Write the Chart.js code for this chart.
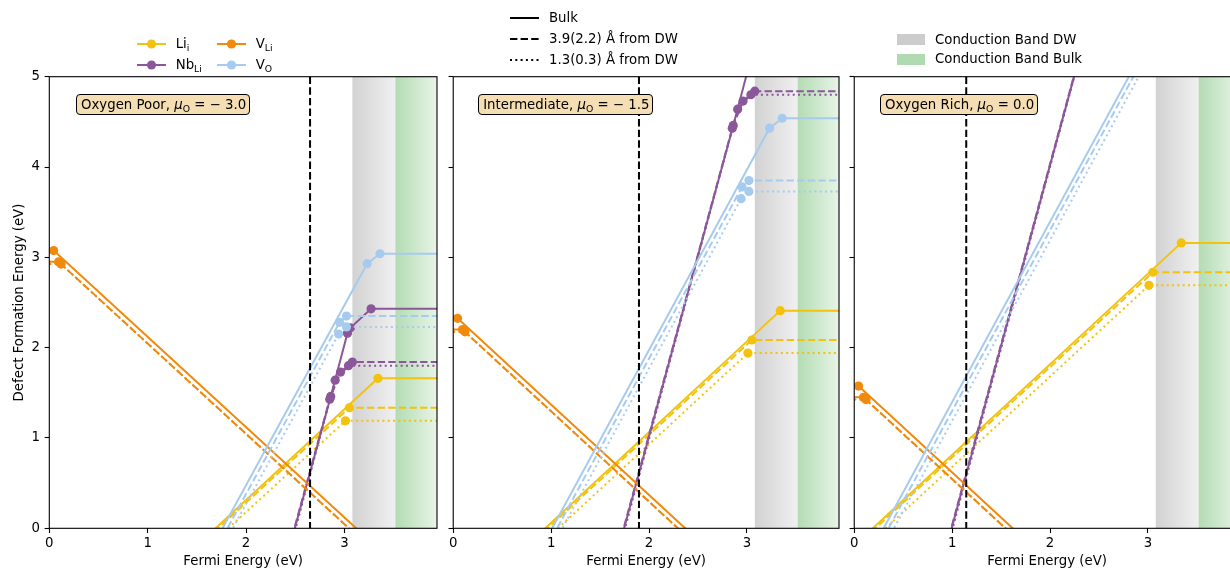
<!DOCTYPE html>
<html>
<head>
<meta charset="utf-8">
<script src="https://cdn.jsdelivr.net/npm/chart.js@4.4.1/dist/chart.umd.min.js"></script>
<style>
  html, body { margin: 0; padding: 0; background: #fff; overflow: hidden; width: 1230px; height: 569px; }
  body { position: relative; font-family: "DejaVu Sans", sans-serif; font-size: 13.3px; color: #000; }
  canvas { position: absolute; top: 0; }
  .leg { position: absolute; white-space: nowrap; line-height: 16px; height: 16px; }
  .handle { position: absolute; }
  sub { font-size: 70%; vertical-align: -0.3em; line-height: 0; }
  .tag { position: absolute; top: 94px; height: 21px; box-sizing: border-box; border: 1px solid #000;
         border-radius: 4px; background: #f5deb3; padding: 0 3px 0 4px; line-height: 19px; white-space: nowrap; }
</style>
</head>
<body>
<script>
// Fermi energy axis and formation energy axis
const xTicks = [0, 1, 2, 3];
const yTicks = [0, 1, 2, 3, 4, 5];
const xMax = 3.94;
const yMax = 5;

// conduction band regions (eV)
const bandDW = [3.08, 3.517];
const bandBulk = [3.517, 3.94];

// one entry per panel
const panelNames = ['Oxygen Poor', 'Intermediate', 'Oxygen Rich'];
const muO = [-3.0, -1.5, 0.0];
const fermiLevels = [2.65, 1.897, 1.144];

// each defect: [bulk, 3.9 A from DW, 1.3 A from DW], vertices as [E_F, E_form]
const liPoor = [
  [[1.49, -0.2], [3.34, 1.66], [3.94, 1.66]],
  [[1.515, -0.2], [3.05, 1.335], [3.94, 1.335]],
  [[1.62, -0.2], [3.01, 1.19], [3.94, 1.19]]
];
const vliPoor = [
  [[0, 3.075], [0.044, 3.075], [3.319, -0.2]],
  [[0, 2.95], [0.095, 2.95], [3.245, -0.2]],
  [[0, 2.925], [0.12, 2.925], [3.245, -0.2]]
];
const nbPoor = [
  [[2.445, -0.2], [2.86, 1.46], [3.03, 2.16], [3.06, 2.22], [3.27, 2.43], [3.94, 2.43]],
  [[2.44, -0.2], [2.85, 1.43], [2.96, 1.73], [3.08, 1.84], [3.94, 1.84]],
  [[2.455, -0.2], [2.905, 1.64], [3.04, 1.80], [3.94, 1.80]]
];
const voPoor = [
  [[1.66, -0.2], [3.23, 2.93], [3.36, 3.04], [3.94, 3.04]],
  [[1.71, -0.2], [2.95, 2.28], [3.02, 2.35], [3.94, 2.35]],
  [[1.765, -0.2], [2.94, 2.15], [3.02, 2.23], [3.94, 2.23]]
];

const liMid = [
  [[0.74, -0.2], [3.34, 2.41], [3.94, 2.41]],
  [[0.765, -0.2], [3.05, 2.085], [3.94, 2.085]],
  [[0.87, -0.2], [3.01, 1.94], [3.94, 1.94]]
];
const vliMid = [
  [[0, 2.325], [0.044, 2.325], [2.569, -0.2]],
  [[0, 2.2], [0.095, 2.2], [2.495, -0.2]],
  [[0, 2.175], [0.12, 2.175], [2.495, -0.2]]
];
const nbMid = [
  [[1.695, -0.2], [2.86, 4.46], [3.03, 5.16], [3.06, 5.22], [3.27, 5.43], [3.94, 5.43]],
  [[1.69, -0.2], [2.85, 4.43], [2.96, 4.73], [3.08, 4.84], [3.94, 4.84]],
  [[1.705, -0.2], [2.905, 4.64], [3.04, 4.80], [3.94, 4.80]]
];
const voMid = [
  [[0.91, -0.2], [3.23, 4.43], [3.36, 4.54], [3.94, 4.54]],
  [[0.96, -0.2], [2.95, 3.78], [3.02, 3.85], [3.94, 3.85]],
  [[1.015, -0.2], [2.94, 3.65], [3.02, 3.73], [3.94, 3.73]]
];

const liRich = [
  [[-0.01, -0.2], [3.34, 3.16], [3.94, 3.16]],
  [[0.015, -0.2], [3.05, 2.835], [3.94, 2.835]],
  [[0.12, -0.2], [3.01, 2.69], [3.94, 2.69]]
];
const vliRich = [
  [[0, 1.575], [0.044, 1.575], [1.819, -0.2]],
  [[0, 1.45], [0.095, 1.45], [1.745, -0.2]],
  [[0, 1.425], [0.12, 1.425], [1.745, -0.2]]
];
const nbRich = [
  [[0.945, -0.2], [2.86, 7.46], [3.03, 8.16], [3.06, 8.22], [3.27, 8.43], [3.94, 8.43]],
  [[0.94, -0.2], [2.85, 7.43], [2.96, 7.73], [3.08, 7.84], [3.94, 7.84]],
  [[0.955, -0.2], [2.905, 7.64], [3.04, 7.80], [3.94, 7.80]]
];
const voRich = [
  [[0.2, -0.2], [3.23, 5.85], [3.36, 5.96], [3.94, 5.96]],
  [[0.25, -0.2], [2.95, 5.2], [3.02, 5.27], [3.94, 5.27]],
  [[0.305, -0.2], [2.94, 5.07], [3.02, 5.15], [3.94, 5.15]]
];

const panelData = [
  [liPoor, nbPoor, vliPoor, voPoor],
  [liMid, nbMid, vliMid, voMid],
  [liRich, nbRich, vliRich, voRich]
];

// defects in plotting order: Li_i, Nb_Li, V_Li, V_O
const defectColors = ['#f2c20f', '#8b5799', '#f0890c', '#a7cbee'];
const dashes = [[], [7.4, 3.2], [2, 3.3]];
const styleLabels = ['Bulk', '3.9(2.2) Å from DW', '1.3(0.3) Å from DW'];

// geometry
const plotTop = 76.7, plotBottom = 528.3, plotW = 387.4, canvasH = 570;
const panelLefts = [49.3, 451.5, 853.3];
const FONT = { family: 'DejaVu Sans', size: 13.3 };
const MARK_R = 4.6;

function bandGradient(ctx, x0, x1, c0, c1) {
  const g = ctx.createLinearGradient(x0, 0, x1, 0);
  g.addColorStop(0, c0);
  g.addColorStop(1, c1);
  return g;
}

function makePanel(idx) {
  const yAxisW = idx === 0 ? panelLefts[0] : 6;
  const canvas = document.createElement('canvas');
  const w = Math.round(yAxisW + plotW + 8);
  canvas.width = w;
  canvas.height = canvasH;
  canvas.style.left = (panelLefts[idx] - yAxisW) + 'px';
  canvas.style.width = w + 'px';
  canvas.style.height = canvasH + 'px';
  document.body.appendChild(canvas);

  const datasets = [];
  let k = 0;
  panelData[idx].forEach((defect, d) => {
    defect.forEach((pts, s) => {
      const n = pts.length;
      datasets.push({
        data: pts.map(([x, y]) => ({ x, y })),
        showLine: true,
        borderColor: defectColors[d],
        backgroundColor: defectColors[d],
        borderWidth: 2,
        borderDash: dashes[s],
        // transitions get a dot, the open ends do not
        pointRadius: c => (c.dataIndex === 0 || c.dataIndex === n - 1) ? 0 : MARK_R,
        pointHoverRadius: 0,
        pointBorderWidth: 0,
        tension: 0,
        order: -k
      });
      k++;
    });
  });

  const decor = {
    id: 'decor' + idx,
    beforeDatasetsDraw(chart) {
      const { ctx, chartArea: a, scales: { x } } = chart;
      ctx.save();
      ctx.beginPath();
      ctx.rect(a.left, a.top, a.right - a.left, a.bottom - a.top);
      ctx.clip();
      let x0 = x.getPixelForValue(bandDW[0]), x1 = x.getPixelForValue(bandDW[1]);
      ctx.fillStyle = bandGradient(ctx, x0, x1, '#d2d2d2', '#f0f0f0');
      ctx.fillRect(x0, a.top, x1 - x0, a.bottom - a.top);
      x0 = x.getPixelForValue(bandBulk[0]);
      x1 = x.getPixelForValue(bandBulk[1]);
      ctx.fillStyle = bandGradient(ctx, x0, x1, '#b3dcb3', '#e8f4e8');
      ctx.fillRect(x0, a.top, x1 - x0, a.bottom - a.top);
      ctx.restore();
    },
    afterDatasetsDraw(chart) {
      const { ctx, chartArea: a, scales: { x } } = chart;
      const xf = x.getPixelForValue(fermiLevels[idx]);
      ctx.save();
      ctx.strokeStyle = '#000';
      ctx.lineWidth = 2;
      ctx.setLineDash([7.4, 3.2]);
      ctx.beginPath();
      ctx.moveTo(xf, a.top);
      ctx.lineTo(xf, a.bottom);
      ctx.stroke();
      // axes frame
      ctx.setLineDash([]);
      ctx.lineWidth = 1.1;
      ctx.strokeRect(a.left, a.top, a.right - a.left, a.bottom - a.top);
      ctx.restore();
    }
  };

  new Chart(canvas, {
    type: 'scatter',
    data: { datasets },
    options: {
      responsive: false,
      animation: false,
      events: [],
      layout: { padding: { top: plotTop, right: 8, bottom: 0, left: 0 } },
      plugins: { legend: { display: false }, tooltip: { enabled: false } },
      scales: {
        x: {
          type: 'linear', min: 0, max: xMax,
          afterBuildTicks: s => { s.ticks = xTicks.map(v => ({ value: v })); },
          afterFit: s => { s.height = canvasH - plotBottom; },
          grid: { drawOnChartArea: false, drawTicks: true, tickLength: 4.7, color: '#000', tickWidth: 1.1 },
          border: { display: false },
          ticks: { font: FONT, color: '#000', padding: 3, autoSkip: false, maxRotation: 0 },
          title: { display: true, text: 'Fermi Energy (eV)', font: FONT, color: '#000', padding: { top: 0, bottom: 0 } }
        },
        y: {
          type: 'linear', min: 0, max: yMax,
          afterBuildTicks: s => { s.ticks = yTicks.map(v => ({ value: v })); },
          afterFit: s => { s.width = yAxisW; },
          grid: { drawOnChartArea: false, drawTicks: true, tickLength: 4.7, color: '#000', tickWidth: 1.1 },
          border: { display: false },
          ticks: { display: idx === 0, font: FONT, color: '#000', padding: 4.7, autoSkip: false },
          title: { display: idx === 0, text: 'Defect Formation Energy (eV)', font: FONT, color: '#000', padding: { top: 12, bottom: 0 } }
        }
      }
    },
    plugins: [decor]
  });

  // condition label
  const tag = document.createElement('div');
  tag.className = 'tag';
  tag.style.left = (panelLefts[idx] + 26.7) + 'px';
  const mu = muO[idx];
  const muText = mu < 0 ? '\u2212 ' + Math.abs(mu).toFixed(1) : mu.toFixed(1);
  tag.innerHTML = panelNames[idx] + ', <i>μ</i><sub>O</sub> = ' + muText;
  document.body.appendChild(tag);
}

function addText(html, x, yc) {
  const el = document.createElement('div');
  el.className = 'leg';
  el.style.left = x + 'px';
  el.style.top = (yc - 8) + 'px';
  el.innerHTML = html;
  document.body.appendChild(el);
}

function addHandle(x, yc, color, dash, marker) {
  const ns = 'http://www.w3.org/2000/svg';
  const svg = document.createElementNS(ns, 'svg');
  svg.setAttribute('class', 'handle');
  svg.setAttribute('width', 30);
  svg.setAttribute('height', 12);
  svg.style.left = x + 'px';
  svg.style.top = (yc - 6) + 'px';
  const line = document.createElementNS(ns, 'line');
  line.setAttribute('x1', 0); line.setAttribute('x2', 29);
  line.setAttribute('y1', 6); line.setAttribute('y2', 6);
  line.setAttribute('stroke', color);
  line.setAttribute('stroke-width', 2);
  if (dash.length) line.setAttribute('stroke-dasharray', dash.join(' '));
  svg.appendChild(line);
  if (marker) {
    const c = document.createElementNS(ns, 'circle');
    c.setAttribute('cx', 14.5); c.setAttribute('cy', 6); c.setAttribute('r', MARK_R);
    c.setAttribute('fill', color);
    svg.appendChild(c);
  }
  document.body.appendChild(svg);
}

function addPatch(x, yc, color) {
  const el = document.createElement('div');
  el.style.cssText = `position:absolute;left:${x}px;top:${yc - 5.3}px;width:28.3px;height:10.7px;background:${color}`;
  document.body.appendChild(el);
}

[0, 1, 2].forEach(makePanel);

// defect legend (two columns)
const defectLabels = ['Li<sub>i</sub>', 'Nb<sub>Li</sub>', 'V<sub>Li</sub>', 'V<sub>O</sub>'];
defectLabels.forEach((lab, i) => {
  const col = Math.floor(i / 2), row = i % 2;
  const hx = 136.7 + col * 80, yc = 44.3 + row * 20.7;
  addHandle(hx, yc, defectColors[i], [], true);
  addText(lab, hx + 39, yc);
});

// line style legend
styleLabels.forEach((lab, i) => {
  const yc = 18.3 + i * 20.85;
  addHandle(510, yc, '#000', dashes[i], false);
  addText(lab, 549, yc);
});

// conduction band legend
addPatch(896.7, 39.7, '#cccccc');
addText('Conduction Band DW', 935, 39.7);
addPatch(896.7, 59.3, '#b0dbb0');
addText('Conduction Band Bulk', 935, 59.3);
</script>
</body>
</html>
